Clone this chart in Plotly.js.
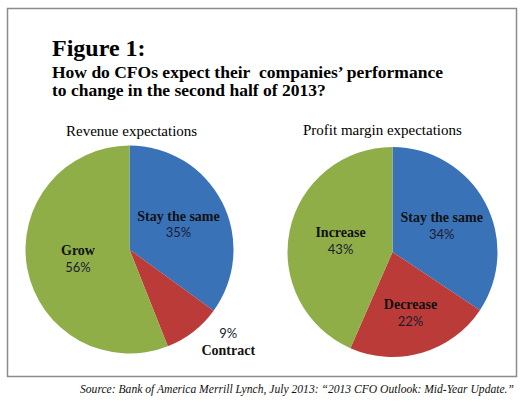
<!DOCTYPE html>
<html>
<head>
<meta charset="utf-8">
<script src="https://cdn.plot.ly/plotly-3.0.1.min.js"></script>
<style>html,body{margin:0;padding:0;background:#fff;}#chart{width:529px;height:418px;}</style>
</head>
<body>
<div id="chart"></div>
<script>
const revenueLabels = ["Stay the same", "Contract", "Grow"];
const revenueValues = [35, 9, 56];
const marginLabels = ["Stay the same", "Decrease", "Increase"];
const marginValues = [34, 22, 43];
const sliceColors = ["#3a72b8", "#ba3b38", "#8fae48"];
const figureTitle = "Figure 1:";
const subtitleLines = ["How do CFOs expect their&nbsp; companies\u2019 performance", "to change in the second half of 2013?"];
const pieTitles = ["Revenue expectations", "Profit margin expectations"];
const sourceText = "Source: Bank of America Merrill Lynch, July 2013: \u201c2013 CFO Outlook: Mid-Year Update.\u201d";

const W = 529, H = 418;
const px = x => x / W;
const py = y => 1 - y / H;

const serifB = "font-family:'Liberation Serif';font-weight:bold;font-size:14px;fill:#111";
const inTpl = '<span style="' + serifB + '">%{label}</span><br>%{value}%';
const outTpl = '%{value}%<br><span style="' + serifB + '">%{label}</span>';

const labelFont = {family: "'Liberation Sans Narrow', Lato, sans-serif", size: 13, color: "#1c1c30"};

const data = [
  {
    type: "pie", labels: revenueLabels, values: revenueValues, sort: false,
    direction: "clockwise", rotation: 0,
    marker: {colors: sliceColors, line: {width: 0}},
    texttemplate: [inTpl, outTpl, inTpl],
    textposition: ["inside", "outside", "inside"],
    insidetextorientation: "horizontal",
    textfont: labelFont, insidetextfont: labelFont, outsidetextfont: labelFont,
    domain: {x: [px(25.5), px(233.5)], y: [py(353.5), py(145.5)]},
    hoverinfo: "label+value", showlegend: false
  },
  {
    type: "pie", labels: marginLabels, values: marginValues, sort: false,
    direction: "clockwise", rotation: 0,
    marker: {colors: sliceColors, line: {width: 0}},
    texttemplate: [inTpl, inTpl, inTpl],
    textposition: "inside",
    insidetextorientation: "horizontal",
    textfont: labelFont, insidetextfont: labelFont,
    domain: {x: [px(287.5), px(497.5)], y: [py(357), py(147)]},
    hoverinfo: "label+value", showlegend: false
  }
];

const serif = "'Liberation Serif', 'DejaVu Serif', serif";
const annotations = [
  {text: "<b>" + figureTitle + "</b>", x: px(51), y: py(48), xanchor: "left", yanchor: "middle",
   font: {family: serif, size: 24, color: "#000"}},
  {text: "<b>" + subtitleLines[0] + "</b>", x: px(51), y: py(72), xanchor: "left", yanchor: "middle",
   font: {family: serif, size: 17.5, color: "#000"}},
  {text: "<b>" + subtitleLines[1] + "</b>", x: px(51), y: py(90), xanchor: "left", yanchor: "middle",
   font: {family: serif, size: 17.5, color: "#000"}},
  {text: pieTitles[0], x: px(131), y: py(131), xanchor: "center", yanchor: "middle",
   font: {family: serif, size: 15, color: "#000"}},
  {text: pieTitles[1], x: px(382), y: py(130), xanchor: "center", yanchor: "middle",
   font: {family: serif, size: 15, color: "#000"}},
  {text: "<i>" + sourceText + "</i>", x: px(515), y: py(389), xanchor: "right", yanchor: "middle",
   font: {family: serif, size: 11.6, color: "#111"}}
].map(a => Object.assign({xref: "paper", yref: "paper", showarrow: false, borderpad: 0}, a));

const layout = {
  width: W, height: H,
  margin: {l: 0, r: 0, t: 0, b: 0},
  paper_bgcolor: "#fff",
  showlegend: false,
  annotations: annotations,
  shapes: [{type: "rect", xref: "paper", yref: "paper", x0: px(7.5), x1: px(516.5), y0: py(376.5), y1: py(8.5),
            line: {color: "#8c8c8c", width: 1.5}, fillcolor: "rgba(0,0,0,0)"}]
};

Plotly.newPlot("chart", data, layout, {displayModeBar: false, staticPlot: true});
</script>
</body>
</html>
